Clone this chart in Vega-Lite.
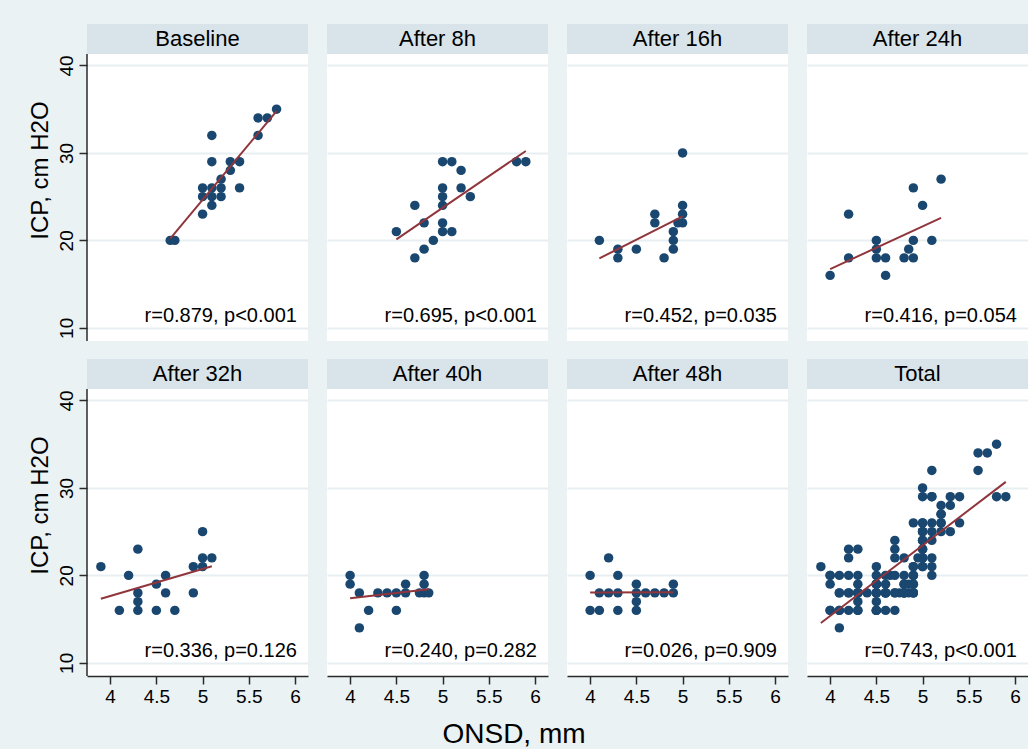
{
 "$schema": "https://vega.github.io/schema/vega-lite/v6.json",
 "padding": {"left": 28, "top": 24, "right": 0, "bottom": 0},
 "background": "#eaf2f3",
 "title": {"text": "ONSD, mm", "orient": "bottom", "anchor": "middle", "frame": "bounds", "fontSize": 28, "letterSpacing": 4, "fontWeight": "normal", "font": "Liberation Sans", "color": "#000000", "offset": 15, "dx": -14},
 "datasets": {
  "ann": [
   {"t": "Baseline", "s": "r=0.879, p<0.001"},
   {"t": "After 8h", "s": "r=0.695, p<0.001"},
   {"t": "After 16h", "s": "r=0.452, p=0.035"},
   {"t": "After 24h", "s": "r=0.416, p=0.054"},
   {"t": "After 32h", "s": "r=0.336, p=0.126"},
   {"t": "After 40h", "s": "r=0.240, p=0.282"},
   {"t": "After 48h", "s": "r=0.026, p=0.909"},
   {"t": "Total", "s": "r=0.743, p<0.001"}
  ],
  "pts": [
   {"t": "Baseline", "onsd": 4.65, "icp": 20}, {"t": "Baseline", "onsd": 4.7, "icp": 20}, {"t": "Baseline", "onsd": 5.0, "icp": 23},
   {"t": "Baseline", "onsd": 5.1, "icp": 24}, {"t": "Baseline", "onsd": 5.0, "icp": 25}, {"t": "Baseline", "onsd": 5.1, "icp": 25},
   {"t": "Baseline", "onsd": 5.2, "icp": 25}, {"t": "Baseline", "onsd": 5.0, "icp": 26}, {"t": "Baseline", "onsd": 5.1, "icp": 26},
   {"t": "Baseline", "onsd": 5.2, "icp": 26}, {"t": "Baseline", "onsd": 5.4, "icp": 26}, {"t": "Baseline", "onsd": 5.2, "icp": 27},
   {"t": "Baseline", "onsd": 5.3, "icp": 28}, {"t": "Baseline", "onsd": 5.1, "icp": 29}, {"t": "Baseline", "onsd": 5.3, "icp": 29},
   {"t": "Baseline", "onsd": 5.4, "icp": 29}, {"t": "Baseline", "onsd": 5.1, "icp": 32}, {"t": "Baseline", "onsd": 5.6, "icp": 32},
   {"t": "Baseline", "onsd": 5.6, "icp": 34}, {"t": "Baseline", "onsd": 5.7, "icp": 34}, {"t": "Baseline", "onsd": 5.8, "icp": 35},
   {"t": "After 8h", "onsd": 4.5, "icp": 21}, {"t": "After 8h", "onsd": 4.7, "icp": 24}, {"t": "After 8h", "onsd": 4.7, "icp": 18},
   {"t": "After 8h", "onsd": 4.8, "icp": 19}, {"t": "After 8h", "onsd": 4.8, "icp": 22}, {"t": "After 8h", "onsd": 4.9, "icp": 20},
   {"t": "After 8h", "onsd": 5.0, "icp": 21}, {"t": "After 8h", "onsd": 5.0, "icp": 22}, {"t": "After 8h", "onsd": 5.0, "icp": 24},
   {"t": "After 8h", "onsd": 5.0, "icp": 25}, {"t": "After 8h", "onsd": 5.0, "icp": 26}, {"t": "After 8h", "onsd": 5.0, "icp": 29},
   {"t": "After 8h", "onsd": 5.1, "icp": 29}, {"t": "After 8h", "onsd": 5.1, "icp": 21}, {"t": "After 8h", "onsd": 5.2, "icp": 28},
   {"t": "After 8h", "onsd": 5.2, "icp": 26}, {"t": "After 8h", "onsd": 5.3, "icp": 25}, {"t": "After 8h", "onsd": 5.8, "icp": 29},
   {"t": "After 8h", "onsd": 5.9, "icp": 29},
   {"t": "After 16h", "onsd": 4.1, "icp": 20}, {"t": "After 16h", "onsd": 4.3, "icp": 19}, {"t": "After 16h", "onsd": 4.3, "icp": 18},
   {"t": "After 16h", "onsd": 4.5, "icp": 19}, {"t": "After 16h", "onsd": 4.7, "icp": 23}, {"t": "After 16h", "onsd": 4.7, "icp": 22},
   {"t": "After 16h", "onsd": 4.8, "icp": 18}, {"t": "After 16h", "onsd": 4.9, "icp": 21}, {"t": "After 16h", "onsd": 4.9, "icp": 20},
   {"t": "After 16h", "onsd": 4.9, "icp": 19}, {"t": "After 16h", "onsd": 5.0, "icp": 30}, {"t": "After 16h", "onsd": 5.0, "icp": 24},
   {"t": "After 16h", "onsd": 5.0, "icp": 23}, {"t": "After 16h", "onsd": 5.0, "icp": 22}, {"t": "After 16h", "onsd": 4.95, "icp": 22},
   {"t": "After 24h", "onsd": 4.0, "icp": 16}, {"t": "After 24h", "onsd": 4.2, "icp": 23}, {"t": "After 24h", "onsd": 4.2, "icp": 18},
   {"t": "After 24h", "onsd": 4.5, "icp": 20}, {"t": "After 24h", "onsd": 4.5, "icp": 19}, {"t": "After 24h", "onsd": 4.5, "icp": 18},
   {"t": "After 24h", "onsd": 4.6, "icp": 18}, {"t": "After 24h", "onsd": 4.6, "icp": 16}, {"t": "After 24h", "onsd": 4.8, "icp": 18},
   {"t": "After 24h", "onsd": 4.85, "icp": 19}, {"t": "After 24h", "onsd": 4.9, "icp": 18}, {"t": "After 24h", "onsd": 4.9, "icp": 20},
   {"t": "After 24h", "onsd": 4.9, "icp": 26}, {"t": "After 24h", "onsd": 5.0, "icp": 24}, {"t": "After 24h", "onsd": 5.1, "icp": 20},
   {"t": "After 24h", "onsd": 5.2, "icp": 27},
   {"t": "After 32h", "onsd": 3.9, "icp": 21}, {"t": "After 32h", "onsd": 4.1, "icp": 16}, {"t": "After 32h", "onsd": 4.2, "icp": 20},
   {"t": "After 32h", "onsd": 4.3, "icp": 23}, {"t": "After 32h", "onsd": 4.3, "icp": 18}, {"t": "After 32h", "onsd": 4.3, "icp": 17},
   {"t": "After 32h", "onsd": 4.3, "icp": 16}, {"t": "After 32h", "onsd": 4.5, "icp": 19}, {"t": "After 32h", "onsd": 4.5, "icp": 16},
   {"t": "After 32h", "onsd": 4.6, "icp": 20}, {"t": "After 32h", "onsd": 4.6, "icp": 18}, {"t": "After 32h", "onsd": 4.7, "icp": 16},
   {"t": "After 32h", "onsd": 4.9, "icp": 18}, {"t": "After 32h", "onsd": 4.9, "icp": 21}, {"t": "After 32h", "onsd": 5.0, "icp": 22},
   {"t": "After 32h", "onsd": 5.0, "icp": 21}, {"t": "After 32h", "onsd": 5.0, "icp": 25}, {"t": "After 32h", "onsd": 5.1, "icp": 22},
   {"t": "After 40h", "onsd": 4.0, "icp": 20}, {"t": "After 40h", "onsd": 4.0, "icp": 19}, {"t": "After 40h", "onsd": 4.1, "icp": 14},
   {"t": "After 40h", "onsd": 4.1, "icp": 18}, {"t": "After 40h", "onsd": 4.2, "icp": 16}, {"t": "After 40h", "onsd": 4.3, "icp": 18},
   {"t": "After 40h", "onsd": 4.4, "icp": 18}, {"t": "After 40h", "onsd": 4.5, "icp": 18}, {"t": "After 40h", "onsd": 4.5, "icp": 16},
   {"t": "After 40h", "onsd": 4.6, "icp": 19}, {"t": "After 40h", "onsd": 4.6, "icp": 18}, {"t": "After 40h", "onsd": 4.75, "icp": 18},
   {"t": "After 40h", "onsd": 4.8, "icp": 20}, {"t": "After 40h", "onsd": 4.8, "icp": 19}, {"t": "After 40h", "onsd": 4.8, "icp": 18},
   {"t": "After 40h", "onsd": 4.85, "icp": 18},
   {"t": "After 48h", "onsd": 4.0, "icp": 20}, {"t": "After 48h", "onsd": 4.0, "icp": 16}, {"t": "After 48h", "onsd": 4.1, "icp": 16},
   {"t": "After 48h", "onsd": 4.1, "icp": 18}, {"t": "After 48h", "onsd": 4.2, "icp": 22}, {"t": "After 48h", "onsd": 4.2, "icp": 18},
   {"t": "After 48h", "onsd": 4.3, "icp": 20}, {"t": "After 48h", "onsd": 4.3, "icp": 18}, {"t": "After 48h", "onsd": 4.3, "icp": 16},
   {"t": "After 48h", "onsd": 4.5, "icp": 19}, {"t": "After 48h", "onsd": 4.5, "icp": 18}, {"t": "After 48h", "onsd": 4.5, "icp": 17},
   {"t": "After 48h", "onsd": 4.5, "icp": 16}, {"t": "After 48h", "onsd": 4.6, "icp": 18}, {"t": "After 48h", "onsd": 4.7, "icp": 18},
   {"t": "After 48h", "onsd": 4.8, "icp": 18}, {"t": "After 48h", "onsd": 4.9, "icp": 19}, {"t": "After 48h", "onsd": 4.9, "icp": 18}
  ]
 },
 "columns": 4,
 "spacing": {"row": 17, "column": 19},
 "concat": [
  {"width": 221, "height": 317, "view": {"fill": "#ffffff", "stroke": null}, "layer": [
   {"data": {"name": "pts"}, "transform": [{"filter": "datum.t == 'Baseline'"}],
    "encoding": {
     "x": {"field": "onsd", "type": "quantitative", "scale": {"domain": [3.75, 6.14], "nice": false, "zero": false}, "axis": null},
     "y": {"field": "icp", "type": "quantitative", "scale": {"domain": [8.5, 44.73], "nice": false, "zero": false}, "axis": {"values": [10, 20, 30, 40], "format": "~g", "title": "ICP, cm H2O", "titleFontSize": 24, "titlePadding": 5, "titleY": 146, "domain": false, "labelAngle": -90, "labelAlign": "center", "labelBaseline": "bottom", "labelFontSize": 19, "labelPadding": 3, "grid": true}}
    },
    "layer": [
     {"mark": {"type": "circle", "size": 90, "opacity": 1, "color": "#1a476f"}},
     {"transform": [{"regression": "icp", "on": "onsd"}], "mark": {"type": "line", "color": "#90353b", "strokeWidth": 2}}
    ]},
   {"data": {"name": "ann"}, "transform": [{"filter": "datum.t == 'Baseline'"}], "mark": {"type": "rect", "color": "#d8e4ea"},
    "encoding": {"x": {"datum": 3.75, "type": "quantitative"}, "x2": {"datum": 6.14}, "y": {"datum": 41.3, "type": "quantitative"}, "y2": {"datum": 44.73}}},
   {"data": {"name": "ann"}, "transform": [{"filter": "datum.t == 'Baseline'"}], "mark": {"type": "text", "fontSize": 22, "color": "#000000", "baseline": "middle"},
    "encoding": {"x": {"datum": 4.945, "type": "quantitative"}, "y": {"datum": 43.0, "type": "quantitative"}, "text": {"field": "t"}}},
   {"data": {"name": "ann"}, "transform": [{"filter": "datum.t == 'Baseline'"}], "mark": {"type": "rule", "color": "#2a2a2a", "strokeWidth": 1.5},
    "encoding": {"x": {"datum": 3.75, "type": "quantitative"}, "y": {"datum": 8.5, "type": "quantitative"}, "y2": {"datum": 41.3}}},
   {"data": {"name": "ann"}, "transform": [{"filter": "datum.t == 'Baseline'"}], "mark": {"type": "text", "align": "right", "baseline": "middle", "fontSize": 20, "color": "#000000"},
    "encoding": {"x": {"datum": 6.02, "type": "quantitative"}, "y": {"datum": 11.4, "type": "quantitative"}, "text": {"field": "s"}}}
  ]},
  {"width": 221, "height": 317, "view": {"fill": "#ffffff", "stroke": null}, "layer": [
   {"data": {"name": "pts"}, "transform": [{"filter": "datum.t == 'After 8h'"}],
    "encoding": {
     "x": {"field": "onsd", "type": "quantitative", "scale": {"domain": [3.75, 6.14], "nice": false, "zero": false}, "axis": null},
     "y": {"field": "icp", "type": "quantitative", "scale": {"domain": [8.5, 44.73], "nice": false, "zero": false}, "axis": {"values": [10, 20, 30, 40], "title": null, "labels": false, "ticks": false, "domain": false, "grid": true}}
    },
    "layer": [
     {"mark": {"type": "circle", "size": 90, "opacity": 1, "color": "#1a476f"}},
     {"transform": [{"regression": "icp", "on": "onsd"}], "mark": {"type": "line", "color": "#90353b", "strokeWidth": 2}}
    ]},
   {"data": {"name": "ann"}, "transform": [{"filter": "datum.t == 'After 8h'"}], "mark": {"type": "rect", "color": "#d8e4ea"},
    "encoding": {"x": {"datum": 3.75, "type": "quantitative"}, "x2": {"datum": 6.14}, "y": {"datum": 41.3, "type": "quantitative"}, "y2": {"datum": 44.73}}},
   {"data": {"name": "ann"}, "transform": [{"filter": "datum.t == 'After 8h'"}], "mark": {"type": "text", "fontSize": 22, "color": "#000000", "baseline": "middle"},
    "encoding": {"x": {"datum": 4.945, "type": "quantitative"}, "y": {"datum": 43.0, "type": "quantitative"}, "text": {"field": "t"}}},
   {"data": {"name": "ann"}, "transform": [{"filter": "datum.t == 'After 8h'"}], "mark": {"type": "text", "align": "right", "baseline": "middle", "fontSize": 20, "color": "#000000"},
    "encoding": {"x": {"datum": 6.02, "type": "quantitative"}, "y": {"datum": 11.4, "type": "quantitative"}, "text": {"field": "s"}}}
  ]},
  {"width": 221, "height": 317, "view": {"fill": "#ffffff", "stroke": null}, "layer": [
   {"data": {"name": "pts"}, "transform": [{"filter": "datum.t == 'After 16h'"}],
    "encoding": {
     "x": {"field": "onsd", "type": "quantitative", "scale": {"domain": [3.75, 6.14], "nice": false, "zero": false}, "axis": null},
     "y": {"field": "icp", "type": "quantitative", "scale": {"domain": [8.5, 44.73], "nice": false, "zero": false}, "axis": {"values": [10, 20, 30, 40], "title": null, "labels": false, "ticks": false, "domain": false, "grid": true}}
    },
    "layer": [
     {"mark": {"type": "circle", "size": 90, "opacity": 1, "color": "#1a476f"}},
     {"transform": [{"regression": "icp", "on": "onsd"}], "mark": {"type": "line", "color": "#90353b", "strokeWidth": 2}}
    ]},
   {"data": {"name": "ann"}, "transform": [{"filter": "datum.t == 'After 16h'"}], "mark": {"type": "rect", "color": "#d8e4ea"},
    "encoding": {"x": {"datum": 3.75, "type": "quantitative"}, "x2": {"datum": 6.14}, "y": {"datum": 41.3, "type": "quantitative"}, "y2": {"datum": 44.73}}},
   {"data": {"name": "ann"}, "transform": [{"filter": "datum.t == 'After 16h'"}], "mark": {"type": "text", "fontSize": 22, "color": "#000000", "baseline": "middle"},
    "encoding": {"x": {"datum": 4.945, "type": "quantitative"}, "y": {"datum": 43.0, "type": "quantitative"}, "text": {"field": "t"}}},
   {"data": {"name": "ann"}, "transform": [{"filter": "datum.t == 'After 16h'"}], "mark": {"type": "text", "align": "right", "baseline": "middle", "fontSize": 20, "color": "#000000"},
    "encoding": {"x": {"datum": 6.02, "type": "quantitative"}, "y": {"datum": 11.4, "type": "quantitative"}, "text": {"field": "s"}}}
  ]},
  {"width": 221, "height": 317, "view": {"fill": "#ffffff", "stroke": null}, "layer": [
   {"data": {"name": "pts"}, "transform": [{"filter": "datum.t == 'After 24h'"}],
    "encoding": {
     "x": {"field": "onsd", "type": "quantitative", "scale": {"domain": [3.75, 6.14], "nice": false, "zero": false}, "axis": null},
     "y": {"field": "icp", "type": "quantitative", "scale": {"domain": [8.5, 44.73], "nice": false, "zero": false}, "axis": {"values": [10, 20, 30, 40], "title": null, "labels": false, "ticks": false, "domain": false, "grid": true}}
    },
    "layer": [
     {"mark": {"type": "circle", "size": 90, "opacity": 1, "color": "#1a476f"}},
     {"transform": [{"regression": "icp", "on": "onsd"}], "mark": {"type": "line", "color": "#90353b", "strokeWidth": 2}}
    ]},
   {"data": {"name": "ann"}, "transform": [{"filter": "datum.t == 'After 24h'"}], "mark": {"type": "rect", "color": "#d8e4ea"},
    "encoding": {"x": {"datum": 3.75, "type": "quantitative"}, "x2": {"datum": 6.14}, "y": {"datum": 41.3, "type": "quantitative"}, "y2": {"datum": 44.73}}},
   {"data": {"name": "ann"}, "transform": [{"filter": "datum.t == 'After 24h'"}], "mark": {"type": "text", "fontSize": 22, "color": "#000000", "baseline": "middle"},
    "encoding": {"x": {"datum": 4.945, "type": "quantitative"}, "y": {"datum": 43.0, "type": "quantitative"}, "text": {"field": "t"}}},
   {"data": {"name": "ann"}, "transform": [{"filter": "datum.t == 'After 24h'"}], "mark": {"type": "text", "align": "right", "baseline": "middle", "fontSize": 20, "color": "#000000"},
    "encoding": {"x": {"datum": 6.02, "type": "quantitative"}, "y": {"datum": 11.4, "type": "quantitative"}, "text": {"field": "s"}}}
  ]},
  {"width": 221, "height": 317, "view": {"fill": "#ffffff", "stroke": null}, "layer": [
   {"data": {"name": "pts"}, "transform": [{"filter": "datum.t == 'After 32h'"}],
    "encoding": {
     "x": {"field": "onsd", "type": "quantitative", "scale": {"domain": [3.75, 6.14], "nice": false, "zero": false}, "axis": {"values": [4, 4.5, 5, 5.5, 6], "format": "~g", "title": null, "grid": false, "labelFontSize": 19, "labelPadding": 3, "labelFlush": false}},
     "y": {"field": "icp", "type": "quantitative", "scale": {"domain": [8.5, 44.73], "nice": false, "zero": false}, "axis": {"values": [10, 20, 30, 40], "format": "~g", "title": "ICP, cm H2O", "titleFontSize": 24, "titlePadding": 5, "titleY": 146, "domain": false, "labelAngle": -90, "labelAlign": "center", "labelBaseline": "bottom", "labelFontSize": 19, "labelPadding": 3, "grid": true}}
    },
    "layer": [
     {"mark": {"type": "circle", "size": 90, "opacity": 1, "color": "#1a476f"}},
     {"transform": [{"regression": "icp", "on": "onsd"}], "mark": {"type": "line", "color": "#90353b", "strokeWidth": 2}}
    ]},
   {"data": {"name": "ann"}, "transform": [{"filter": "datum.t == 'After 32h'"}], "mark": {"type": "rect", "color": "#d8e4ea"},
    "encoding": {"x": {"datum": 3.75, "type": "quantitative"}, "x2": {"datum": 6.14}, "y": {"datum": 41.3, "type": "quantitative"}, "y2": {"datum": 44.73}}},
   {"data": {"name": "ann"}, "transform": [{"filter": "datum.t == 'After 32h'"}], "mark": {"type": "text", "fontSize": 22, "color": "#000000", "baseline": "middle"},
    "encoding": {"x": {"datum": 4.945, "type": "quantitative"}, "y": {"datum": 43.0, "type": "quantitative"}, "text": {"field": "t"}}},
   {"data": {"name": "ann"}, "transform": [{"filter": "datum.t == 'After 32h'"}], "mark": {"type": "rule", "color": "#2a2a2a", "strokeWidth": 1.5},
    "encoding": {"x": {"datum": 3.75, "type": "quantitative"}, "y": {"datum": 8.5, "type": "quantitative"}, "y2": {"datum": 41.3}}},
   {"data": {"name": "ann"}, "transform": [{"filter": "datum.t == 'After 32h'"}], "mark": {"type": "text", "align": "right", "baseline": "middle", "fontSize": 20, "color": "#000000"},
    "encoding": {"x": {"datum": 6.02, "type": "quantitative"}, "y": {"datum": 11.4, "type": "quantitative"}, "text": {"field": "s"}}}
  ]},
  {"width": 221, "height": 317, "view": {"fill": "#ffffff", "stroke": null}, "layer": [
   {"data": {"name": "pts"}, "transform": [{"filter": "datum.t == 'After 40h'"}],
    "encoding": {
     "x": {"field": "onsd", "type": "quantitative", "scale": {"domain": [3.75, 6.14], "nice": false, "zero": false}, "axis": {"values": [4, 4.5, 5, 5.5, 6], "format": "~g", "title": null, "grid": false, "labelFontSize": 19, "labelPadding": 3, "labelFlush": false}},
     "y": {"field": "icp", "type": "quantitative", "scale": {"domain": [8.5, 44.73], "nice": false, "zero": false}, "axis": {"values": [10, 20, 30, 40], "title": null, "labels": false, "ticks": false, "domain": false, "grid": true}}
    },
    "layer": [
     {"mark": {"type": "circle", "size": 90, "opacity": 1, "color": "#1a476f"}},
     {"transform": [{"regression": "icp", "on": "onsd"}], "mark": {"type": "line", "color": "#90353b", "strokeWidth": 2}}
    ]},
   {"data": {"name": "ann"}, "transform": [{"filter": "datum.t == 'After 40h'"}], "mark": {"type": "rect", "color": "#d8e4ea"},
    "encoding": {"x": {"datum": 3.75, "type": "quantitative"}, "x2": {"datum": 6.14}, "y": {"datum": 41.3, "type": "quantitative"}, "y2": {"datum": 44.73}}},
   {"data": {"name": "ann"}, "transform": [{"filter": "datum.t == 'After 40h'"}], "mark": {"type": "text", "fontSize": 22, "color": "#000000", "baseline": "middle"},
    "encoding": {"x": {"datum": 4.945, "type": "quantitative"}, "y": {"datum": 43.0, "type": "quantitative"}, "text": {"field": "t"}}},
   {"data": {"name": "ann"}, "transform": [{"filter": "datum.t == 'After 40h'"}], "mark": {"type": "text", "align": "right", "baseline": "middle", "fontSize": 20, "color": "#000000"},
    "encoding": {"x": {"datum": 6.02, "type": "quantitative"}, "y": {"datum": 11.4, "type": "quantitative"}, "text": {"field": "s"}}}
  ]},
  {"width": 221, "height": 317, "view": {"fill": "#ffffff", "stroke": null}, "layer": [
   {"data": {"name": "pts"}, "transform": [{"filter": "datum.t == 'After 48h'"}],
    "encoding": {
     "x": {"field": "onsd", "type": "quantitative", "scale": {"domain": [3.75, 6.14], "nice": false, "zero": false}, "axis": {"values": [4, 4.5, 5, 5.5, 6], "format": "~g", "title": null, "grid": false, "labelFontSize": 19, "labelPadding": 3, "labelFlush": false}},
     "y": {"field": "icp", "type": "quantitative", "scale": {"domain": [8.5, 44.73], "nice": false, "zero": false}, "axis": {"values": [10, 20, 30, 40], "title": null, "labels": false, "ticks": false, "domain": false, "grid": true}}
    },
    "layer": [
     {"mark": {"type": "circle", "size": 90, "opacity": 1, "color": "#1a476f"}},
     {"transform": [{"regression": "icp", "on": "onsd"}], "mark": {"type": "line", "color": "#90353b", "strokeWidth": 2}}
    ]},
   {"data": {"name": "ann"}, "transform": [{"filter": "datum.t == 'After 48h'"}], "mark": {"type": "rect", "color": "#d8e4ea"},
    "encoding": {"x": {"datum": 3.75, "type": "quantitative"}, "x2": {"datum": 6.14}, "y": {"datum": 41.3, "type": "quantitative"}, "y2": {"datum": 44.73}}},
   {"data": {"name": "ann"}, "transform": [{"filter": "datum.t == 'After 48h'"}], "mark": {"type": "text", "fontSize": 22, "color": "#000000", "baseline": "middle"},
    "encoding": {"x": {"datum": 4.945, "type": "quantitative"}, "y": {"datum": 43.0, "type": "quantitative"}, "text": {"field": "t"}}},
   {"data": {"name": "ann"}, "transform": [{"filter": "datum.t == 'After 48h'"}], "mark": {"type": "text", "align": "right", "baseline": "middle", "fontSize": 20, "color": "#000000"},
    "encoding": {"x": {"datum": 6.02, "type": "quantitative"}, "y": {"datum": 11.4, "type": "quantitative"}, "text": {"field": "s"}}}
  ]},
  {"width": 221, "height": 317, "view": {"fill": "#ffffff", "stroke": null}, "layer": [
   {"data": {"name": "pts"},
    "encoding": {
     "x": {"field": "onsd", "type": "quantitative", "scale": {"domain": [3.75, 6.14], "nice": false, "zero": false}, "axis": {"values": [4, 4.5, 5, 5.5, 6], "format": "~g", "title": null, "grid": false, "labelFontSize": 19, "labelPadding": 3, "labelFlush": false}},
     "y": {"field": "icp", "type": "quantitative", "scale": {"domain": [8.5, 44.73], "nice": false, "zero": false}, "axis": {"values": [10, 20, 30, 40], "title": null, "labels": false, "ticks": false, "domain": false, "grid": true}}
    },
    "layer": [
     {"mark": {"type": "circle", "size": 90, "opacity": 1, "color": "#1a476f"}},
     {"transform": [{"regression": "icp", "on": "onsd"}], "mark": {"type": "line", "color": "#90353b", "strokeWidth": 2}}
    ]},
   {"data": {"name": "ann"}, "transform": [{"filter": "datum.t == 'Total'"}], "mark": {"type": "rect", "color": "#d8e4ea"},
    "encoding": {"x": {"datum": 3.75, "type": "quantitative"}, "x2": {"datum": 6.14}, "y": {"datum": 41.3, "type": "quantitative"}, "y2": {"datum": 44.73}}},
   {"data": {"name": "ann"}, "transform": [{"filter": "datum.t == 'Total'"}], "mark": {"type": "text", "fontSize": 22, "color": "#000000", "baseline": "middle"},
    "encoding": {"x": {"datum": 4.945, "type": "quantitative"}, "y": {"datum": 43.0, "type": "quantitative"}, "text": {"field": "t"}}},
   {"data": {"name": "ann"}, "transform": [{"filter": "datum.t == 'Total'"}], "mark": {"type": "text", "align": "right", "baseline": "middle", "fontSize": 20, "color": "#000000"},
    "encoding": {"x": {"datum": 6.02, "type": "quantitative"}, "y": {"datum": 11.4, "type": "quantitative"}, "text": {"field": "s"}}}
  ]}
 ],
 "config": {
  "font": "Liberation Sans",
  "view": {"stroke": null},
  "text": {"font": "Liberation Sans"},
  "axis": {"labelFont": "Liberation Sans", "titleFont": "Liberation Sans", "labelColor": "#000000", "titleColor": "#000000", "titleFontWeight": "normal", "gridColor": "#e7eff2", "gridWidth": 2, "gridOpacity": 1, "domainColor": "#2a2a2a", "tickColor": "#2a2a2a", "domainWidth": 1.5, "tickWidth": 1.5, "tickSize": 8}
 }
}
